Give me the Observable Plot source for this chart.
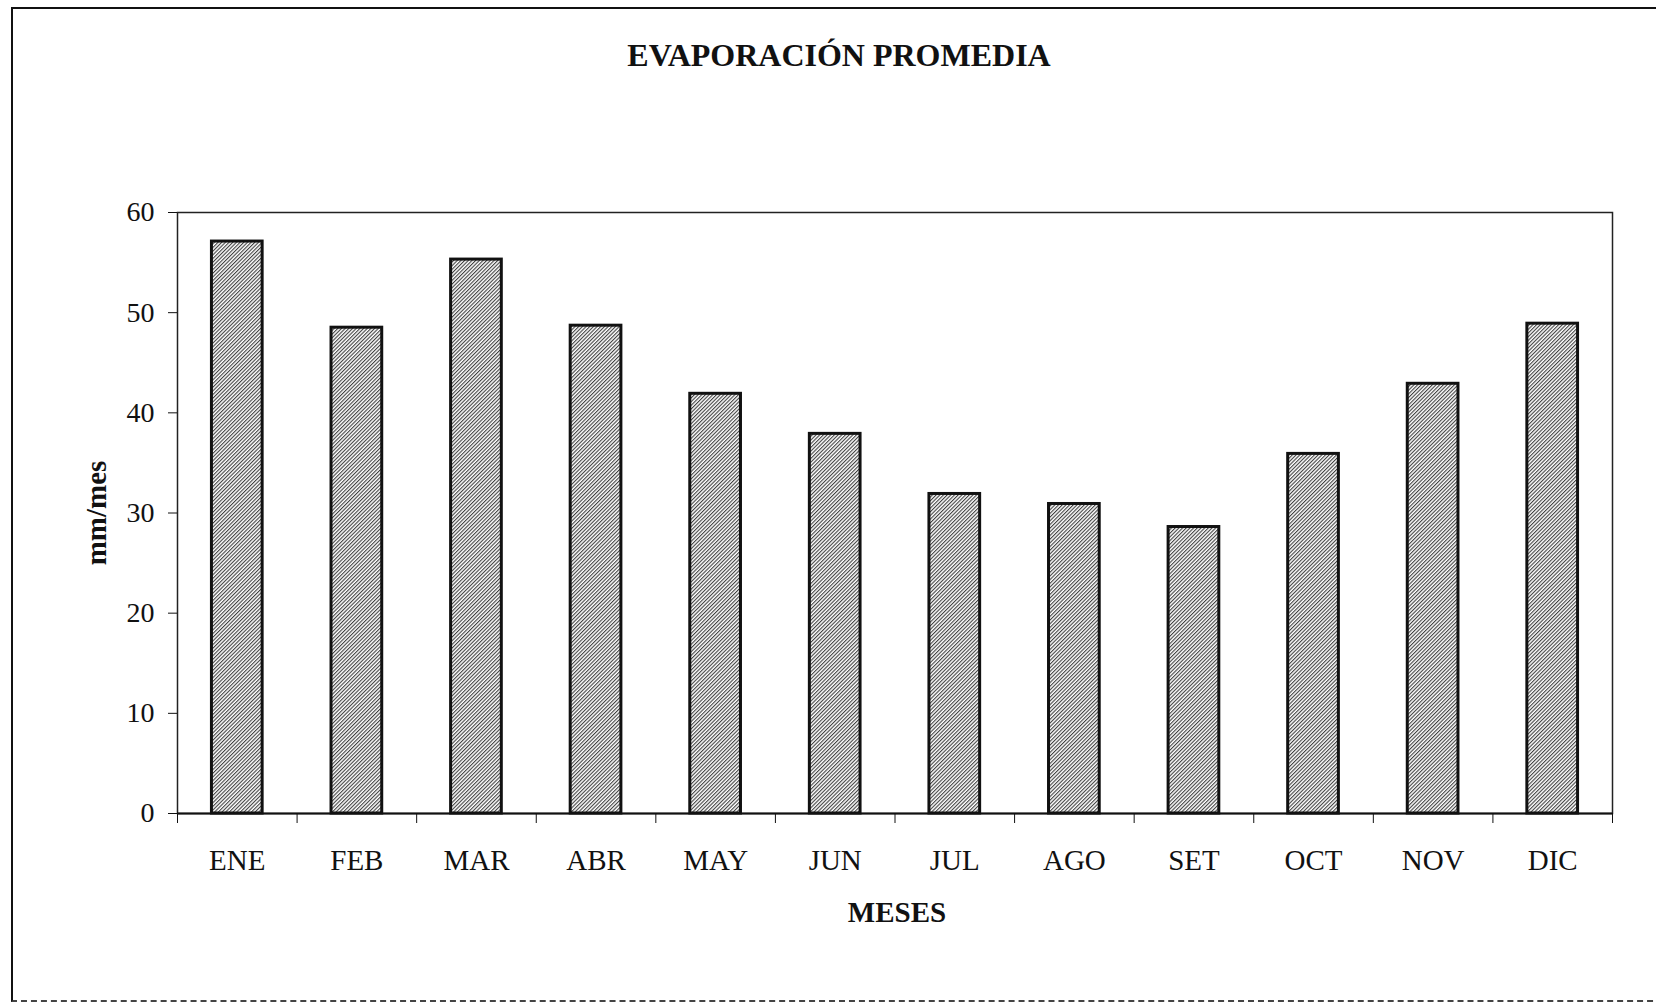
<!DOCTYPE html>
<html>
<head>
<meta charset="utf-8">
<script src="https://cdn.jsdelivr.net/npm/d3@7"></script>
<script src="https://cdn.jsdelivr.net/npm/@observablehq/plot@0.6"></script>
<style>
  html, body { margin: 0; padding: 0; background: #fff; }
  #wrap { position: relative; width: 1656px; height: 1002px; overflow: hidden; }
  #outer { position: absolute; left: 11px; top: 7px; width: 1660px; height: 991px;
           border-left: 2px solid #111; border-top: 2px solid #111; border-bottom: 2px dashed #444; }
  #chart { position: absolute; left: 0; top: 0; }
</style>
</head>
<body>
<div id="wrap"><div id="outer"></div><div id="chart"></div></div>
<script>
const title = "EVAPORACIÓN PROMEDIA";
const xLabel = "MESES";
const yLabel = "mm/mes";
const months = ["ENE","FEB","MAR","ABR","MAY","JUN","JUL","AGO","SET","OCT","NOV","DIC"];
const evaporation = [57.1, 48.5, 55.3, 48.7, 41.9, 37.9, 31.9, 30.9, 28.6, 35.9, 42.9, 48.9];
const yTicks = [0, 10, 20, 30, 40, 50, 60];

const data = months.map((m, i) => ({month: m, i, value: evaporation[i]}));
const serif = "'Liberation Serif', 'Times New Roman', serif";

const svg = Plot.plot({
  width: 1656,
  height: 1002,
  marginLeft: 177,
  marginRight: 44,
  marginTop: 212,
  marginBottom: 189,
  style: {fontFamily: serif, color: "#111", background: "transparent"},
  x: {domain: [0, 12]},
  y: {domain: [0, 60]},
  marks: [
    Plot.rectY(data, {x1: d => d.i + 0.288, x2: d => d.i + 0.712, y: "value",
      fill: "url(#hatch)", stroke: "#111", strokeWidth: 3}),
    Plot.frame({stroke: "#222", strokeWidth: 1.5}),
    Plot.ruleY([0], {stroke: "#111", strokeWidth: 2}),
    Plot.axisY({ticks: yTicks, tickSize: 9, tickPadding: 14, fontSize: 28, label: null}),
    Plot.axisX({ticks: d3.range(13), tickSize: 10, tickFormat: () => "", label: null}),
    Plot.axisX({ticks: months.map((m, i) => i + 0.5), tickSize: 0, tickPadding: 36,
      tickFormat: v => months[Math.floor(v)], fontSize: 29, label: null}),
    Plot.text([title], {frameAnchor: "top", dx: -56, dy: -169, fontSize: 32, fontWeight: "bold"}),
    Plot.text([xLabel], {frameAnchor: "bottom", dx: 2, dy: 108, fontSize: 29, fontWeight: "bold"}),
    Plot.text([yLabel], {frameAnchor: "left", textAnchor: "middle", dx: -81, rotate: -90, fontSize: 29, fontWeight: "bold"})
  ]
});

const ns = "http://www.w3.org/2000/svg";
const defs = document.createElementNS(ns, "defs");
defs.innerHTML = `<pattern id="hatch" patternUnits="userSpaceOnUse" width="2.6" height="2.6" patternTransform="rotate(45)">
  <rect width="2.6" height="2.6" fill="#fff"/>
  <line x1="0.6" y1="0" x2="0.6" y2="2.6" stroke="#222" stroke-width="0.95"/>
</pattern>`;
svg.insertBefore(defs, svg.firstChild);
document.getElementById("chart").appendChild(svg);
</script>
</body>
</html>
